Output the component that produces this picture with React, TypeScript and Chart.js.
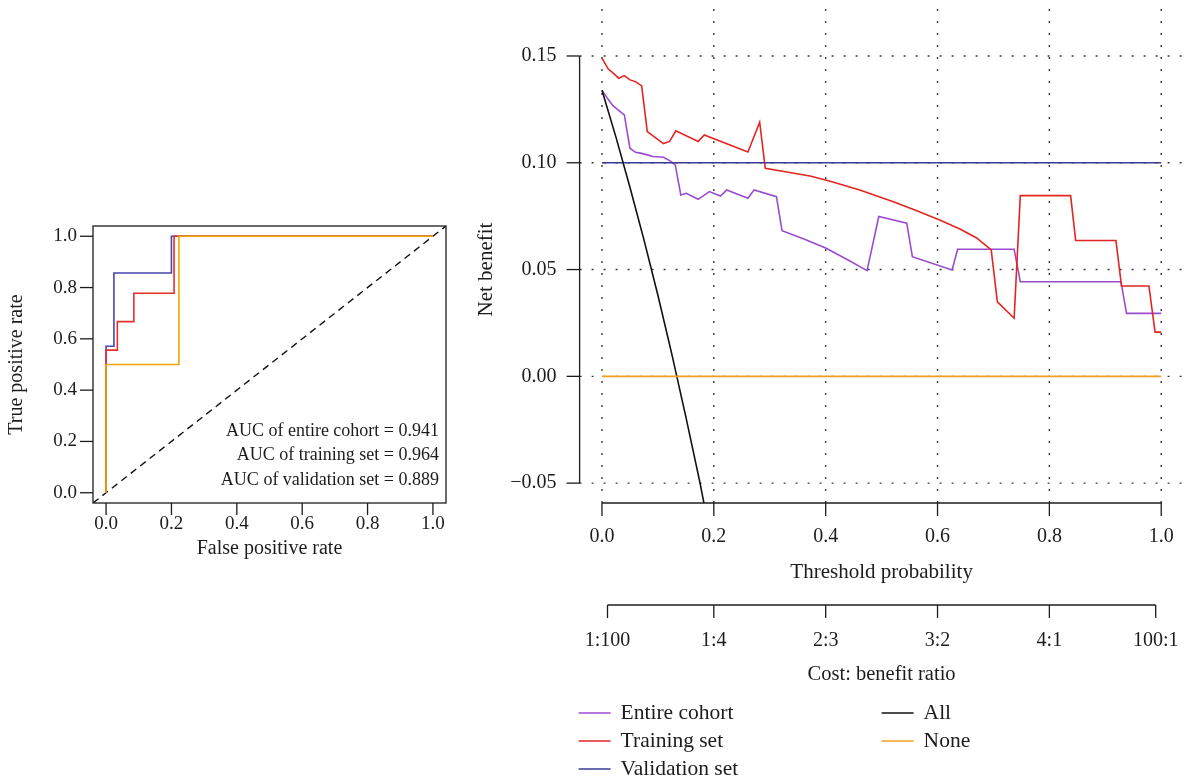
import React, { useEffect, useRef } from "react";
import { Chart, registerables } from "chart.js";

Chart.register(...registerables);

const FONT_FAMILY = '"Liberation Serif", "DejaVu Serif", serif';
const INK = "#1c1c1c";

// ---------------- ROC panel data ----------------
const rocAxisTicks = [0, 0.2, 0.4, 0.6, 0.8, 1.0];
const rocAxisLabels = ["0.0", "0.2", "0.4", "0.6", "0.8", "1.0"];

const rocEntireFpr = [0, 0, 0.0345, 0.0345, 0.085, 0.085, 0.208, 0.208, 1];
const rocEntireTpr = [0, 0.556, 0.556, 0.667, 0.667, 0.778, 0.778, 1, 1];
const rocTrainingFpr = [0, 0, 0.024, 0.024, 0.2, 0.2, 1];
const rocTrainingTpr = [0, 0.571, 0.571, 0.857, 0.857, 1, 1];
const rocValidationFpr = [0, 0, 0.223, 0.223, 1];
const rocValidationTpr = [0, 0.5, 0.5, 1, 1];
const rocChanceLine = [-0.04, 1.04];

const aucTexts = [
  "AUC of entire cohort = 0.941",
  "AUC of training set = 0.964",
  "AUC of validation set = 0.889",
];

// ---------------- Decision curve data ----------------
const dcaXTicks = [0, 0.2, 0.4, 0.6, 0.8, 1.0];
const dcaXLabels = ["0.0", "0.2", "0.4", "0.6", "0.8", "1.0"];
const dcaYTicks = [-0.05, 0, 0.05, 0.1, 0.15];
const dcaYLabels = ["\u22120.05", "0.00", "0.05", "0.10", "0.15"];
const costTicks = [0.0099, 0.2, 0.4, 0.6, 0.8, 0.9901];
const costLabels = ["1:100", "1:4", "2:3", "3:2", "4:1", "100:1"];

const entireT = [
  0, 0.011, 0.02, 0.031, 0.04, 0.05, 0.06, 0.071, 0.081, 0.091, 0.11, 0.121, 0.131,
  0.141, 0.151, 0.172, 0.192, 0.212, 0.223, 0.261, 0.272, 0.312, 0.322, 0.36, 0.401,
  0.44, 0.474, 0.495, 0.545, 0.555, 0.626, 0.636, 0.737, 0.748, 0.928, 0.938, 1.0,
];
const entireNB = [
  0.134, 0.1297, 0.1266, 0.1243, 0.1224, 0.1068, 0.1049, 0.1044, 0.1037, 0.1029, 0.1026,
  0.101, 0.099, 0.0849, 0.0857, 0.0829, 0.0865, 0.0844, 0.0873, 0.0834, 0.0873, 0.0841,
  0.0682, 0.0644, 0.06, 0.0545, 0.0495, 0.0748, 0.0717, 0.056, 0.0498, 0.0595, 0.0595,
  0.0443, 0.0443, 0.0295, 0.0295,
];

const trainingT = [
  0, 0.011, 0.02, 0.03, 0.04, 0.05, 0.06, 0.071, 0.081, 0.11, 0.121, 0.132, 0.172, 0.183,
  0.261, 0.282, 0.292, 0.372, 0.405, 0.461, 0.521, 0.563, 0.607, 0.64, 0.67, 0.696, 0.707,
  0.737, 0.748, 0.838, 0.847, 0.919, 0.929, 0.978, 0.989, 1.0,
];
const trainingNB = [
  0.149, 0.144, 0.142, 0.1396, 0.1408, 0.1388, 0.138, 0.136, 0.1146, 0.109, 0.11, 0.115,
  0.11, 0.113, 0.105, 0.119, 0.0974, 0.0938, 0.0916, 0.0873, 0.0818, 0.0775, 0.0728,
  0.069, 0.0648, 0.0592, 0.0349, 0.0272, 0.0846, 0.0846, 0.0636, 0.0636, 0.0423, 0.0423,
  0.0207, 0.0207,
];

const validationT = [0, 1.0];
const validationNB = [0.1, 0.1];

const allT = [0, 0.025, 0.05, 0.075, 0.1, 0.125, 0.15, 0.175, 0.2];
const allNB = [0.134, 0.112, 0.0885, 0.064, 0.038, 0.0103, -0.019, -0.0495, -0.083];

const noneT = [0, 1.0];
const noneNB = [0, 0];

const legendLeft = ["Entire cohort", "Training set", "Validation set"];
const legendRight = ["All", "None"];

const COLORS: Record<string, string> = {
  "Entire cohort": "#9a4ccf",
  "Training set": "#e32522",
  "Validation set": "#3a3a96",
  All: "#111111",
  None: "#f0a023",
};

const toPoints = (xs: number[], ys: number[]) => xs.map((v, i) => ({ x: v, y: ys[i] }));

const lineDataset = (label: string, xs: number[], ys: number[], color: string, extra: any = {}) => ({
  label,
  data: toPoints(xs, ys),
  showLine: true,
  borderColor: color,
  backgroundColor: color,
  borderWidth: 1.6,
  pointRadius: 0,
  fill: false,
  tension: 0,
  ...extra,
});

const font = (size: number) => `${size}px ${FONT_FAMILY}`;

function seg(ctx: CanvasRenderingContext2D, x1: number, y1: number, x2: number, y2: number) {
  ctx.beginPath();
  ctx.moveTo(x1, y1);
  ctx.lineTo(x2, y2);
  ctx.stroke();
}

const rocPlugin = {
  id: "rocDecor",
  afterDraw(chart: any) {
    const { ctx, chartArea: a, scales } = chart;
    const xs = scales.x;
    const ys = scales.y;
    ctx.save();
    ctx.strokeStyle = INK;
    ctx.fillStyle = INK;
    ctx.lineWidth = 1.3;
    ctx.setLineDash([]);
    ctx.strokeRect(a.left, a.top, a.right - a.left, a.bottom - a.top);

    ctx.font = font(19);
    ctx.textAlign = "center";
    ctx.textBaseline = "middle";
    rocAxisTicks.forEach((v, i) => {
      const px = xs.getPixelForValue(v);
      seg(ctx, px, a.bottom, px, a.bottom + 12);
      ctx.fillText(rocAxisLabels[i], px, a.bottom + 21);
    });
    ctx.textAlign = "right";
    rocAxisTicks.forEach((v, i) => {
      const py = ys.getPixelForValue(v);
      seg(ctx, a.left, py, a.left - 13, py);
      ctx.fillText(rocAxisLabels[i], a.left - 16, py);
    });

    ctx.font = font(20);
    ctx.textAlign = "center";
    const midX = (xs.getPixelForValue(0) + xs.getPixelForValue(1)) / 2;
    ctx.fillText("False positive rate", midX, a.bottom + 46);
    const midY = (ys.getPixelForValue(0) + ys.getPixelForValue(1)) / 2;
    ctx.save();
    ctx.translate(a.left - 76, midY);
    ctx.rotate(-Math.PI / 2);
    ctx.fillText("True positive rate", 0, 0);
    ctx.restore();

    ctx.font = font(18);
    ctx.textAlign = "right";
    aucTexts.forEach((t, i) => {
      ctx.fillText(t, a.right - 7, a.bottom - 72 + i * 24.5);
    });
    ctx.restore();
  },
};

const dcaPlugin = {
  id: "dcaDecor",
  beforeDatasetsDraw(chart: any) {
    const { ctx, chartArea: a, scales } = chart;
    const xs = scales.x;
    const ys = scales.y;
    ctx.save();
    ctx.strokeStyle = "#3a3a3a";
    ctx.lineWidth = 1.4;
    ctx.setLineDash([2, 10]);
    dcaXTicks.forEach((v) => {
      const px = xs.getPixelForValue(v);
      seg(ctx, px, a.bottom, px, a.top);
    });
    dcaYTicks.forEach((v) => {
      const py = ys.getPixelForValue(v);
      seg(ctx, a.left, py, a.right, py);
    });
    ctx.restore();
  },
  afterDraw(chart: any) {
    const { ctx, chartArea: a, scales } = chart;
    const xs = scales.x;
    const ys = scales.y;
    ctx.save();
    ctx.setLineDash([]);
    ctx.strokeStyle = INK;
    ctx.fillStyle = INK;
    ctx.lineWidth = 1.3;

    // y axis
    const yTop = ys.getPixelForValue(dcaYTicks[dcaYTicks.length - 1]);
    const yBot = ys.getPixelForValue(dcaYTicks[0]);
    seg(ctx, a.left, yTop, a.left, yBot);
    ctx.font = font(20);
    ctx.textAlign = "right";
    ctx.textBaseline = "middle";
    dcaYTicks.forEach((v, i) => {
      const py = ys.getPixelForValue(v);
      seg(ctx, a.left, py, a.left - 13, py);
      ctx.fillText(dcaYLabels[i], a.left - 23, py);
    });
    ctx.save();
    ctx.font = font(21);
    ctx.textAlign = "center";
    ctx.translate(a.left - 93, (yTop + yBot) / 2);
    ctx.rotate(-Math.PI / 2);
    ctx.fillText("Net benefit", 0, 0);
    ctx.restore();

    // threshold axis
    const x0 = xs.getPixelForValue(dcaXTicks[0]);
    const x1 = xs.getPixelForValue(dcaXTicks[dcaXTicks.length - 1]);
    const axY = a.bottom;
    seg(ctx, x0, axY, x1, axY);
    ctx.textAlign = "center";
    dcaXTicks.forEach((v, i) => {
      const px = xs.getPixelForValue(v);
      seg(ctx, px, axY, px, axY + 13);
      ctx.fillText(dcaXLabels[i], px, axY + 34);
    });
    ctx.font = font(21);
    ctx.fillText("Threshold probability", (x0 + x1) / 2, axY + 69);

    // cost:benefit axis
    ctx.font = font(20);
    const cY = a.bottom + 102;
    const c0 = xs.getPixelForValue(costTicks[0]);
    const c1 = xs.getPixelForValue(costTicks[costTicks.length - 1]);
    seg(ctx, c0, cY, c1, cY);
    costTicks.forEach((v, i) => {
      const px = xs.getPixelForValue(v);
      seg(ctx, px, cY, px, cY + 13);
      ctx.fillText(costLabels[i], px, cY + 36);
    });
    ctx.font = font(20.5);
    ctx.fillText("Cost: benefit ratio", (x0 + x1) / 2, cY + 70);

    // legend
    ctx.font = font(21.5);
    ctx.textAlign = "left";
    ctx.lineWidth = 1.6;
    const rowY = (i: number) => a.bottom + 210 + i * 28;
    const drawCol = (labels: string[], lineX: number) => {
      labels.forEach((lab, i) => {
        ctx.strokeStyle = COLORS[lab];
        seg(ctx, lineX, rowY(i), lineX + 32, rowY(i));
        ctx.fillStyle = INK;
        ctx.fillText(lab, lineX + 42, rowY(i));
      });
    };
    drawCol(legendLeft, a.left - 1);
    drawCol(legendRight, a.left + 302);
    ctx.restore();
  },
};

const baseOptions = (padding: any, xr: number[], yr: number[]) => ({
  responsive: false,
  animation: false as const,
  events: [] as any[],
  layout: { padding },
  plugins: { legend: { display: false }, tooltip: { enabled: false } },
  scales: {
    x: { type: "linear" as const, min: xr[0], max: xr[1], display: false },
    y: { type: "linear" as const, min: yr[0], max: yr[1], display: false },
  },
});

export default function App() {
  const rocRef = useRef<HTMLCanvasElement | null>(null);
  const dcaRef = useRef<HTMLCanvasElement | null>(null);

  useEffect(() => {
    const rocChart = new Chart(rocRef.current as HTMLCanvasElement, {
      type: "scatter",
      data: {
        datasets: [
          lineDataset("Validation set", rocValidationFpr, rocValidationTpr, "#f5a300"),
          lineDataset("Entire cohort", rocEntireFpr, rocEntireTpr, "#e3302c"),
          lineDataset("Training set", rocTrainingFpr, rocTrainingTpr, "#4646b0"),
          lineDataset("Chance", rocChanceLine, rocChanceLine, "#111111", {
            borderDash: [7, 5],
            borderWidth: 1.4,
          }),
        ],
      },
      options: baseOptions({ left: 93, top: 46, right: 24, bottom: 117 }, [-0.04, 1.04], [-0.04, 1.04]) as any,
      plugins: [rocPlugin],
    });

    const dcaChart = new Chart(dcaRef.current as HTMLCanvasElement, {
      type: "scatter",
      data: {
        datasets: [
          lineDataset("None", noneT, noneNB, COLORS["None"]),
          lineDataset("All", allT, allNB, COLORS["All"]),
          lineDataset("Validation set", validationT, validationNB, COLORS["Validation set"]),
          lineDataset("Training set", trainingT, trainingNB, COLORS["Training set"]),
          lineDataset("Entire cohort", entireT, entireNB, COLORS["Entire cohort"]),
        ],
      },
      options: baseOptions({ left: 109.6, top: 6, right: 4.4, bottom: 275 }, [-0.04, 1.04], [-0.0593, 0.1734]) as any,
      plugins: [dcaPlugin],
    });

    return () => {
      rocChart.destroy();
      dcaChart.destroy();
    };
  }, []);

  return (
    <div style={{ position: "absolute", left: 0, top: 0, width: 1188, height: 778, background: "#fff" }}>
      <canvas
        ref={rocRef}
        width={470}
        height={440}
        style={{ position: "absolute", left: 0, top: 180, width: 470, height: 440 }}
      />
      <canvas
        ref={dcaRef}
        width={718}
        height={778}
        style={{ position: "absolute", left: 470, top: 0, width: 718, height: 778 }}
      />
    </div>
  );
}
